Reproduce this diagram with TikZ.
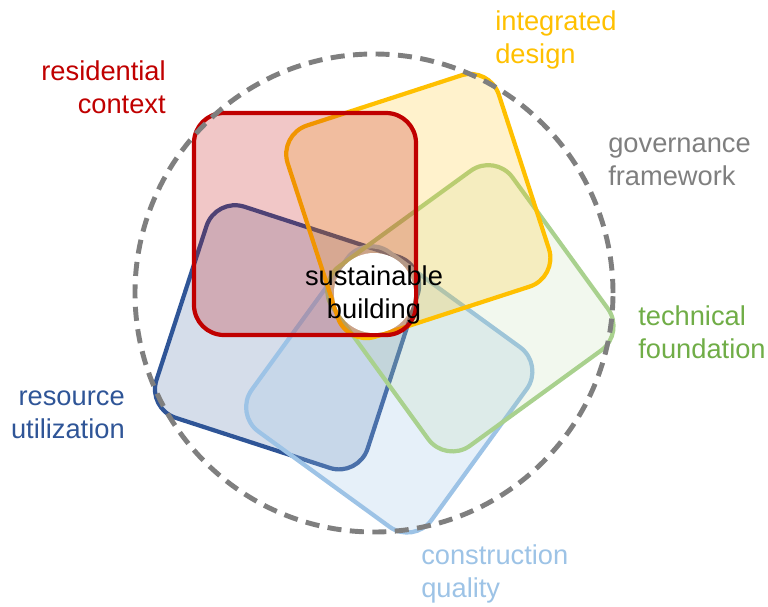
\documentclass[tikz,border=0pt]{standalone}
\usepackage{fontspec}
\setmainfont{Liberation Sans}
\usepackage{tikz}
\usetikzlibrary{calc}
\definecolor{resred}{HTML}{C00000}
\definecolor{intyellow}{HTML}{FFC000}
\definecolor{govgray}{HTML}{7F7F7F}
\definecolor{tecgreen}{HTML}{A9D18E}
\definecolor{tectext}{HTML}{70AD47}
\definecolor{conblue}{HTML}{9DC3E6}
\definecolor{resblue}{HTML}{2F5597}
\tikzset{petal/.style={line width=3pt, rounded corners=0.75cm}}
\tikzset{ring/.style={draw=govgray, line width=3.5pt, dash pattern=on 10pt off 6pt}}
\tikzset{lbl/.style={font=\fontsize{19.4}{23.3}\selectfont, inner sep=0pt}}

\begin{document}
\begin{tikzpicture}[scale=1]
\useasboundingbox (-9.35,-7.825) rectangle (9.85,7.325);
% five overlapping squares, turned in steps of 72 degrees
\foreach \rot/\col/\op in {72/resblue/0.2, 144/conblue/0.25, -144/tecgreen/0.15, -72/intyellow/0.2, 0/resred/0.22}
  \draw[petal, draw=\col, fill=\col, fill opacity=\op, rotate=\rot] (-4.5,-1.05) rectangle (1.05,4.5);
\draw[ring] (0,0) circle [radius = 5.975];
\node[circle, fill=white, minimum size=2cm, inner sep=0pt] (hub) at (0,0) {};
\node[lbl, align=center] (core) at (0,-0.05) {sustainable\\building};
% labels round the ring (base = last line)
\node[lbl, text=resred, align=right, anchor=base east] (residential) at (-5.2,4.5) {residential\\context};
\node[lbl, text=intyellow, align=left, anchor=base west] (integrated) at (3.025,5.75) {integrated\\design};
\node[lbl, text=govgray, align=left, anchor=base west] (governance) at (5.85,2.7) {governance\\framework};
\node[lbl, text=tectext, align=left, anchor=base west] (technical) at (6.6,-1.625) {technical\\foundation};
\node[lbl, text=resblue, align=right, anchor=base east] (resource) at (-6.225,-3.625) {resource\\utilization};
\node[lbl, text=conblue, align=left, anchor=base west] (construction) at (1.175,-7.6) {construction\\quality};
\end{tikzpicture}
\end{document}
